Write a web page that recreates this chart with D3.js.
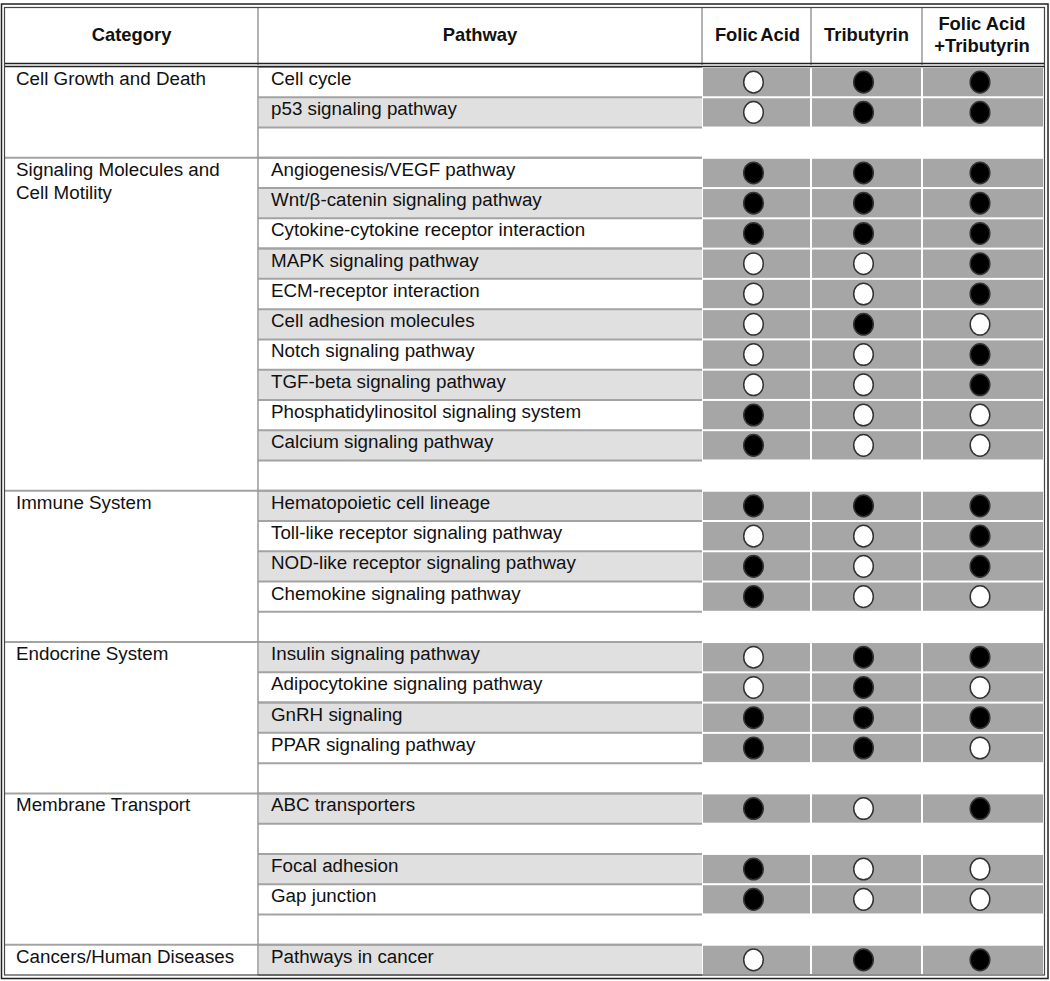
<!DOCTYPE html>
<html>
<head>
<meta charset="utf-8">
<script src="https://cdn.jsdelivr.net/npm/d3@7"></script>
<style>
  body { margin: 0; background: #fff; }
  text { font-family: "Liberation Sans", Arial, sans-serif; fill: #111; }
</style>
</head>
<body>
<div id="viz"></div>
<script>
const width = 1050;
const height = 981;

// Data
const headers = ['Category', 'Pathway', 'Folic Acid', 'Tributyrin', 'Folic Acid\n+Tributyrin'];
const treatments = ['Folic Acid', 'Tributyrin', 'Folic Acid +Tributyrin'];
const categories = [
  'Cell Growth and Death',
  'Signaling Molecules and\nCell Motility',
  'Immune System',
  'Endocrine System',
  'Membrane Transport',
  'Cancers/Human Diseases'
];
// one entry per table row, '' = spacer row
const pathways = [
  'Cell cycle', 'p53 signaling pathway', '',
  'Angiogenesis/VEGF pathway', 'Wnt/β-catenin signaling pathway', 'Cytokine-cytokine receptor interaction',
  'MAPK signaling pathway', 'ECM-receptor interaction', 'Cell adhesion molecules', 'Notch signaling pathway',
  'TGF-beta signaling pathway', 'Phosphatidylinositol signaling system', 'Calcium signaling pathway', '',
  'Hematopoietic cell lineage', 'Toll-like receptor signaling pathway', 'NOD-like receptor signaling pathway',
  'Chemokine signaling pathway', '',
  'Insulin signaling pathway', 'Adipocytokine signaling pathway', 'GnRH signaling', 'PPAR signaling pathway', '',
  'ABC transporters', '', 'Focal adhesion', 'Gap junction', '',
  'Pathways in cancer'
];
const rowCategory = [0,0,0, 1,1,1,1,1,1,1,1,1,1,1, 2,2,2,2,2, 3,3,3,3,3, 4,4,4,4,4, 5];
const rowShaded   = [0,1,0, 0,1,0,1,0,1,0,1,0,1,0, 1,0,1,0,0, 1,0,1,0,0, 1,0,1,0,0, 1];
// 1 = filled circle, 0 = open circle, null = spacer
const folicAcid   = [0,0,null, 1,1,1,0,0,0,0,0,1,1,null, 1,0,1,1,null, 0,0,1,1,null, 1,null,1,1,null, 0];
const tributyrin  = [1,1,null, 1,1,1,0,0,1,0,0,0,0,null, 1,0,0,0,null, 1,1,1,1,null, 0,null,0,0,null, 1];
const combined    = [1,1,null, 1,1,1,1,1,0,1,1,0,0,null, 1,1,1,0,null, 1,0,1,0,null, 1,null,0,0,null, 1];

// Layout
const colEdges = [5, 258, 702, 811, 922, 1044];
const headerTop = 7, headerBottom = 65, bodyTop = 67, bodyBottom = 975;
const lineGray = '#a3a3a3';
const bodyFont = '18.8px';

const svg = d3.select('#viz')
  .append('svg')
  .attr('width', width)
  .attr('height', height);

const yScale = d3.scaleBand()
  .domain(d3.range(pathways.length))
  .range([bodyTop, bodyBottom]);

const colScale = d3.scaleOrdinal()
  .domain(treatments)
  .range(colEdges.slice(2, 5));
const colWidth = t => colEdges[treatments.indexOf(t) + 3] - colScale(t);

const rows = pathways.map((p, i) => ({
  i, pathway: p, cat: rowCategory[i], shaded: rowShaded[i],
  values: [folicAcid[i], tributyrin[i], combined[i]]
}));
const dataRows = rows.filter(r => r.pathway !== '');

// Pathway column shading
svg.append('g')
  .selectAll('rect')
  .data(dataRows.filter(r => r.shaded))
  .join('rect')
    .attr('x', colEdges[1] + 1)
    .attr('y', d => yScale(d.i))
    .attr('width', colEdges[2] - colEdges[1] - 1)
    .attr('height', yScale.bandwidth())
    .attr('fill', '#e0e0e0');

// Pathway row borders (top and bottom of each data row)
const borderYs = Array.from(new Set(dataRows.flatMap(r => [yScale(r.i), yScale(r.i) + yScale.bandwidth()])));
svg.append('g')
  .selectAll('line')
  .data(borderYs)
  .join('line')
    .attr('x1', colEdges[1])
    .attr('x2', colEdges[2])
    .attr('y1', d => d)
    .attr('y2', d => d)
    .attr('stroke', lineGray)
    .attr('stroke-width', 2);

// Group boundaries
const groupStarts = rows.filter((r, i) => i > 0 && r.cat !== rows[i - 1].cat);
svg.append('g')
  .selectAll('line')
  .data(groupStarts)
  .join('line')
    .attr('x1', colEdges[0])
    .attr('x2', colEdges[2])
    .attr('y1', d => yScale(d.i))
    .attr('y2', d => yScale(d.i))
    .attr('stroke', lineGray)
    .attr('stroke-width', 2);

// Treatment cells
const cells = dataRows.flatMap(r => treatments.map((t, j) => ({row: r, t, v: r.values[j]})));
svg.append('g')
  .selectAll('rect')
  .data(cells)
  .join('rect')
    .attr('x', d => colScale(d.t) + 1)
    .attr('y', d => yScale(d.row.i) + 1)
    .attr('width', d => colWidth(d.t) - 2)
    .attr('height', yScale.bandwidth() - 2)
    .attr('fill', '#a6a6a6');

svg.append('g')
  .selectAll('ellipse')
  .data(cells)
  .join('ellipse')
    .attr('cx', d => colScale(d.t) + colWidth(d.t) / 2 - 3)
    .attr('cy', d => yScale(d.row.i) + yScale.bandwidth() / 2)
    .attr('rx', 9.8)
    .attr('ry', 10.8)
    .attr('fill', d => d.v ? '#000' : '#fff')
    .attr('stroke', '#333')
    .attr('stroke-width', 1.5);

// Pathway labels
svg.append('g')
  .selectAll('text')
  .data(dataRows)
  .join('text')
    .attr('x', colEdges[1] + 13)
    .attr('y', d => yScale(d.i) + 18)
    .style('font-size', bodyFont)
    .text(d => d.pathway);

// Category labels
const catFirst = categories.map((c, k) => rows.find(r => r.cat === k));
const catText = svg.append('g')
  .selectAll('text')
  .data(categories)
  .join('text')
    .attr('x', colEdges[0] + 11)
    .attr('y', (d, k) => yScale(catFirst[k].i) + 18)
    .style('font-size', bodyFont);
catText.selectAll('tspan')
  .data(d => d.split('\n'))
  .join('tspan')
    .attr('x', colEdges[0] + 11)
    .attr('dy', (d, i) => i ? 23 : 0)
    .text(d => d);

// Header
const headerText = svg.append('g')
  .selectAll('text')
  .data(headers)
  .join('text')
    .attr('text-anchor', 'middle')
    .attr('x', (d, i) => (colEdges[i] + colEdges[i + 1]) / 2 + (i === 4 ? -1 : i === 2 ? 1 : 0))
    .attr('y', d => d.includes('\n') ? 30 : 41)
    .style('font-size', '18.4px')
    .style('font-weight', 'bold')
    .style('word-spacing', (d, i) => i === 2 ? '-2px' : null);
headerText.selectAll('tspan')
  .data(d => d.split('\n'))
  .join('tspan')
    .attr('x', function() { return this.parentNode.getAttribute('x'); })
    .attr('dy', (d, i) => i ? 22 : 0)
    .text(d => d);

// Vertical separators
svg.append('g')
  .selectAll('line')
  .data(colEdges.slice(1, 5))
  .join('line')
    .attr('x1', d => d)
    .attr('x2', d => d)
    .attr('y1', headerTop)
    .attr('y2', headerBottom)
    .attr('stroke', '#999')
    .attr('stroke-width', 1.5);

svg.append('line')
  .attr('x1', colEdges[1]).attr('x2', colEdges[1])
  .attr('y1', bodyTop).attr('y2', bodyBottom)
  .attr('stroke', '#999')
  .attr('stroke-width', 1.5);

// Header double rule
[63.5, 66.5].forEach(y => {
  svg.append('line')
    .attr('x1', 4).attr('x2', 1045)
    .attr('y1', y).attr('y2', y)
    .attr('stroke', '#222')
    .attr('stroke-width', 1.5);
});

// Outer double border
svg.append('rect')
  .attr('x', 1.5).attr('y', 4)
  .attr('width', 1046.5).attr('height', 974.5)
  .attr('fill', 'none')
  .attr('stroke', '#222')
  .attr('stroke-width', 1.5);
svg.append('rect')
  .attr('x', 4.5).attr('y', 7.5)
  .attr('width', 1040).attr('height', 967.5)
  .attr('fill', 'none')
  .attr('stroke', '#444')
  .attr('stroke-width', 1.2);
</script>
</body>
</html>
